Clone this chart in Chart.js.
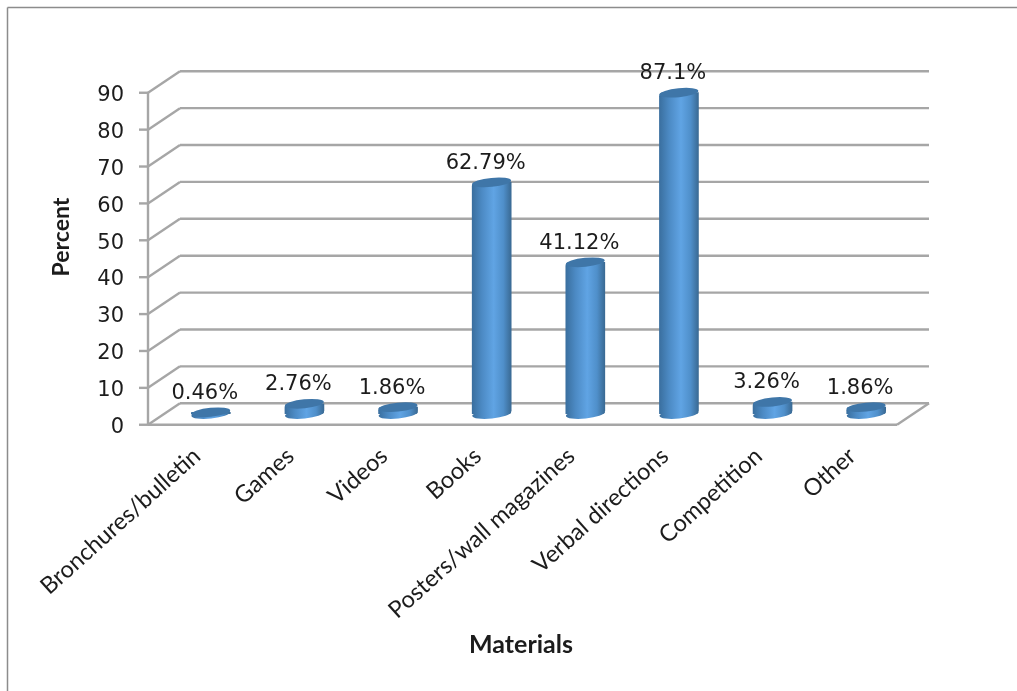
<!DOCTYPE html>
<html>
<head>
<meta charset="utf-8">
<title>Materials</title>
<script src="https://cdn.jsdelivr.net/npm/chart.js@4/dist/chart.umd.min.js"></script>
<style>
  html, body { margin: 0; padding: 0; background: #fff; }
  canvas { display: block; }
</style>
</head>
<body>
<canvas id="chart" width="1017" height="691"></canvas>
<script>
const categories = ['Bronchures/bulletin', 'Games', 'Videos', 'Books', 'Posters/wall magazines', 'Verbal directions', 'Competition', 'Other'];
const percentValues = [0.46, 2.76, 1.86, 62.79, 41.12, 87.1, 3.26, 1.86];
const yTicks = [0, 10, 20, 30, 40, 50, 60, 70, 80, 90];
const xTitle = 'Materials';
const yTitle = 'Percent';

// la profondeur du "3D" : le plan des barres est a mi-chemin entre le mur et l'avant
const DEPTH_X = 16;
const DEPTH_Y = 10.75;
const GRID_COLOR = '#a6a6a6';
const TEXT_COLOR = '#1c1c1c';
const NUM_FONT = '"DejaVu Sans"';
const LABEL_FONT = 'Lato';

function barGradient(ctx, x, width) {
  const g = ctx.createLinearGradient(x - width / 2, 0, x + width / 2, 0);
  g.addColorStop(0, '#3a6f9f');
  g.addColorStop(0.25, '#4c8ac4');
  g.addColorStop(0.55, '#60a4e4');
  g.addColorStop(0.8, '#4f8fca');
  g.addColorStop(1, '#3a6a94');
  return g;
}

function line(ctx, x1, y1, x2, y2) {
  ctx.beginPath();
  ctx.moveTo(x1, y1);
  ctx.lineTo(x2, y2);
  ctx.stroke();
}

// cadre, plancher et murs : suivent les graduations de l'axe y
const wallsPlugin = {
  id: 'walls',
  beforeDatasetsDraw(chart) {
    const { ctx, chartArea: area, scales: { y } } = chart;
    const frontLeft = area.left - DEPTH_X;
    const frontRight = area.right - DEPTH_X;
    const backLeft = area.left + DEPTH_X;
    const backRight = area.right + DEPTH_X;
    ctx.save();

    ctx.strokeStyle = '#8c8c8c';
    ctx.lineWidth = 1.5;
    line(ctx, 7.5, 7.5, chart.width, 7.5);
    line(ctx, 7.5, 7.5, 7.5, chart.height);

    ctx.strokeStyle = GRID_COLOR;
    ctx.lineWidth = 2.4;
    yTicks.forEach(t => {
      const p = y.getPixelForValue(t);
      line(ctx, backLeft, p - DEPTH_Y, backRight, p - DEPTH_Y);
      line(ctx, frontLeft, p + DEPTH_Y, backLeft, p - DEPTH_Y);
      line(ctx, frontLeft - 9, p + DEPTH_Y, frontLeft, p + DEPTH_Y);
    });
    const zero = y.getPixelForValue(0);
    line(ctx, frontLeft, y.getPixelForValue(90) + DEPTH_Y, frontLeft, zero + DEPTH_Y);
    line(ctx, frontLeft, zero + DEPTH_Y, frontRight, zero + DEPTH_Y);
    line(ctx, frontRight, zero + DEPTH_Y, backRight, zero - DEPTH_Y);
    ctx.restore();
  }
};

// extremites des cylindres, valeurs et titres d'axes
const cylinderPlugin = {
  id: 'cylinders',
  afterDatasetsDraw(chart) {
    const { ctx } = chart;
    const bars = chart.getDatasetMeta(0).data;
    const tilt = -0.1;
    ctx.save();
    bars.forEach(bar => {
      const rx = bar.width / 2;
      ctx.fillStyle = barGradient(ctx, bar.x, bar.width);
      ctx.beginPath();
      ctx.ellipse(bar.x, bar.base, rx, 4.5, tilt, 0, Math.PI * 2);
      ctx.fill();
      ctx.fillStyle = '#3f76a8';
      ctx.beginPath();
      ctx.ellipse(bar.x, bar.y, rx, 4.5, tilt, 0, Math.PI * 2);
      ctx.fill();
    });

    ctx.fillStyle = TEXT_COLOR;
    ctx.textAlign = 'center';
    ctx.textBaseline = 'middle';
    ctx.font = `21px ${NUM_FONT}`;
    bars.forEach((bar, i) => {
      ctx.fillText(percentValues[i] + '%', bar.x - 6, bar.y - 19);
    });

    ctx.font = `bold 25px ${LABEL_FONT}`;
    ctx.fillText(xTitle, 521, 645);
    ctx.font = `bold 23px ${LABEL_FONT}`;
    ctx.translate(62, 237);
    ctx.rotate(-Math.PI / 2);
    ctx.fillText(yTitle, 0, 0);
    ctx.restore();
  }
};

new Chart(document.getElementById('chart'), {
  type: 'bar',
  data: {
    labels: categories,
    datasets: [{
      data: percentValues,
      barThickness: 39,
      borderWidth: 0,
      borderSkipped: false,
      // coins arrondis pour que le rectangle ne depasse pas des ellipses inclinees
      borderRadius: { topLeft: 4, bottomRight: 4, topRight: 0, bottomLeft: 0 },
      backgroundColor: c => {
        const x = c.chart.scales.x;
        if (!x || c.type !== 'data' || !x.width) return '#4c8ac4';
        return barGradient(c.chart.ctx, x.getPixelForValue(c.dataIndex), 39);
      }
    }]
  },
  options: {
    responsive: false,
    animation: false,
    layout: { autoPadding: false, padding: { top: 82, right: 104, left: 0, bottom: 0 } },
    plugins: { legend: { display: false }, tooltip: { enabled: false } },
    scales: {
      x: {
        grid: { display: false },
        border: { display: false },
        afterFit: s => { s.height = 277; },
        ticks: {
          autoSkip: false,
          minRotation: 42,
          maxRotation: 42,
          padding: 20,
          labelOffset: -14,
          color: TEXT_COLOR,
          font: { family: LABEL_FONT, size: 23.5 }
        }
      },
      y: {
        min: 0,
        max: 90,
        afterFit: s => { s.width = 164; },
        afterBuildTicks: s => { s.ticks = yTicks.map(value => ({ value })); },
        grid: { display: false },
        border: { display: false },
        ticks: {
          padding: 32,
          labelOffset: 13.5,
          color: TEXT_COLOR,
          font: { family: NUM_FONT, size: 21 }
        }
      }
    }
  },
  plugins: [wallsPlugin, cylinderPlugin]
});
</script>
</body>
</html>
